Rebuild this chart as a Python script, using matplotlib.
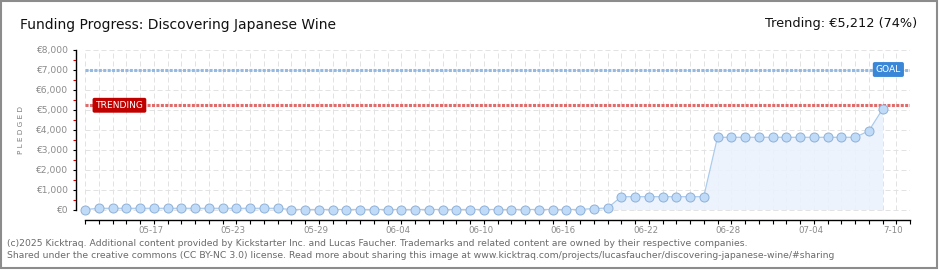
import numpy as np
import pandas as pd
import matplotlib
matplotlib.use("Agg")
import matplotlib.pyplot as plt
import matplotlib.dates as mdates
import matplotlib.transforms as mtransforms
from matplotlib.patches import Rectangle
from matplotlib.ticker import FixedLocator, FuncFormatter

# ---- data -------------------------------------------------------------
start_date = "2025-05-12"
pledged = [0, 60, 60, 60, 60, 60, 60, 60, 60, 60, 60, 60, 60, 60, 60,
           0, 0, 0, 0, 0, 0, 0, 0, 0, 0, 0, 0, 0, 0, 0, 0, 0, 0, 0, 0, 0, 0,
           50, 70,
           640, 640, 640, 640, 640, 640, 640,
           3610, 3610, 3610, 3610, 3610, 3610, 3610, 3610, 3610, 3610, 3610,
           3925, 5010]
goal = 7000
trending = 5212
tick_dates = ["2025-05-17", "2025-05-23", "2025-05-29", "2025-06-04", "2025-06-10",
              "2025-06-16", "2025-06-22", "2025-06-28", "2025-07-04", "2025-07-10"]
tick_labels = ["05-17", "05-23", "05-29", "06-04", "06-10",
               "06-16", "06-22", "06-28", "07-04", "7-10"]
y_ticks = [0, 1000, 2000, 3000, 4000, 5000, 6000, 7000, 8000]
title = "Funding Progress: Discovering Japanese Wine"
trend_text = "Trending: €5,212 (74%)"
footer = ["(c)2025 Kicktraq. Additional content provided by Kickstarter Inc. and Lucas Faucher. "
          "Trademarks and related content are owned by their respective companies.",
          "Shared under the creative commons (CC BY-NC 3.0) license. Read more about sharing this "
          "image at www.kicktraq.com/projects/lucasfaucher/discovering-japanese-wine/#sharing"]

# ---- layout -----------------------------------------------------------
W, H = 940, 270
fig = plt.figure(figsize=(W / 100, H / 100), dpi=100)
fig.patch.set_facecolor("white")

narrow = ["Liberation Sans Narrow", "DejaVu Sans"]

day_px = 13.75
day0 = mdates.date2num(pd.Timestamp(start_date))
days = mdates.date2num(pd.date_range(start_date, periods=len(pledged)))
n_span = 60

left_px, right_px, top_px, bot_px, zero_px = 76, 910, 49.5, 220, 209.5
ax = fig.add_axes([left_px / W, 1 - bot_px / H,
                   (right_px - left_px) / W, (bot_px - top_px) / H])
ax.set_xlim(day0 - (85 - left_px) / day_px, day0 + n_span)
units_per_px = 8000 / (zero_px - top_px)
ax.set_ylim(-(bot_px - zero_px) * units_per_px, 8000)
ax.patch.set_alpha(0)

for s in ("top", "right"):
    ax.spines[s].set_visible(False)
ax.spines["left"].set_bounds(0, 8000)
ax.spines["bottom"].set_bounds(day0, day0 + n_span)
for s in ("left", "bottom"):
    ax.spines[s].set_linewidth(1.0)
    ax.spines[s].set_color("black")

# grid
grid_kw = dict(colors="#e2e2e2", linewidth=0.72, linestyles=(0, (5, 3)), zorder=0)
ax.vlines(day0 + np.arange(n_span + 1), 0, 8000, **grid_kw)
ax.hlines(y_ticks, day0, day0 + n_span, **grid_kw)

# y axis ticks
ax.set_yticks(y_ticks)
ax.yaxis.set_major_formatter(FuncFormatter(lambda v, _: f"€{v:,.0f}"))
ax.yaxis.set_minor_locator(FixedLocator([v + 500 for v in y_ticks[:-1]]))
ax.tick_params(axis="y", which="major", length=2.4, width=0.8, color="black",
               labelsize=6.6, labelcolor="#8a8a8a", pad=3.0)
ax.tick_params(axis="y", which="minor", length=2.4, width=0.8, color="#e00000")

# x axis ticks
ax.set_xticks(mdates.date2num(pd.to_datetime(tick_dates)), tick_labels)
ax.xaxis.set_minor_locator(FixedLocator(day0 + np.arange(n_span + 1)))
ax.tick_params(axis="x", which="both", length=2.9, width=0.8, color="black",
               labelsize=6.2, labelcolor="#8a8a8a", pad=1.2)
shift = mtransforms.ScaledTranslation(-3 / 100, 0, fig.dpi_scale_trans)
for lbl in ax.get_xticklabels():
    lbl.set_transform(lbl.get_transform() + shift)

# pledged series
ax.fill_between(days, pledged, 0, color="#eaf2fc", alpha=0.9, linewidth=0, zorder=1)
ax.plot(days, pledged, color="#aacbee", linewidth=0.9, zorder=3)
ax.plot(days, pledged, "o", markersize=6.5, markerfacecolor="#c0dbf7",
        markeredgecolor="#8fb0d8", markeredgewidth=0.7, zorder=4)

# goal and trending reference lines
ax.hlines(goal, day0, day0 + n_span, colors="#93b9e5", linewidth=2.2,
          linestyles=(0, (1, 0.45)), zorder=2)
ax.hlines(trending, day0, day0 + n_span, colors="#e06b6b", linewidth=2.2,
          linestyles=(0, (1, 0.45)), zorder=2)

ax.text(day0 + (901 - 85) / day_px, goal, "GOAL", ha="right", va="center",
        color="white", fontsize=6.6, zorder=6,
        bbox=dict(boxstyle="round,pad=0.32,rounding_size=0.2", fc="#3a87d8", ec="none"))
ax.text(day0 + (95.5 - 85) / day_px, trending, "TRENDING", ha="left", va="center",
        color="white", fontsize=6.6, zorder=6,
        bbox=dict(boxstyle="round,pad=0.32,rounding_size=0.2", fc="#c10000", ec="none"))

# ---- texts ------------------------------------------------------------
fig.text(20 / W, 1 - 25 / H, title, ha="left", va="center", fontsize=10,
         family=narrow, color="#111111")
fig.text(917 / W, 1 - 24 / H, trend_text, ha="right", va="center", fontsize=9.3,
         family=narrow, color="#111111")
fig.text(21 / W, 1 - 130 / H, "P L E D G E D", rotation=90, ha="center", va="center",
         fontsize=5.2, color="#7a7a7a")
fig.text(7 / W, 1 - 243.5 / H, footer[0], ha="left", va="center", fontsize=6.7,
         family=narrow, color="#6a6a6a")
fig.text(7 / W, 1 - 255.5 / H, footer[1], ha="left", va="center", fontsize=6.7,
         family=narrow, color="#6a6a6a")

fig.add_artist(Rectangle((1 / W, 2 / H), 936 / W, 267 / H, transform=fig.transFigure,
                         fill=False, edgecolor="#8c8c8c", linewidth=1.5))

fig.savefig("out.png", dpi=100)
